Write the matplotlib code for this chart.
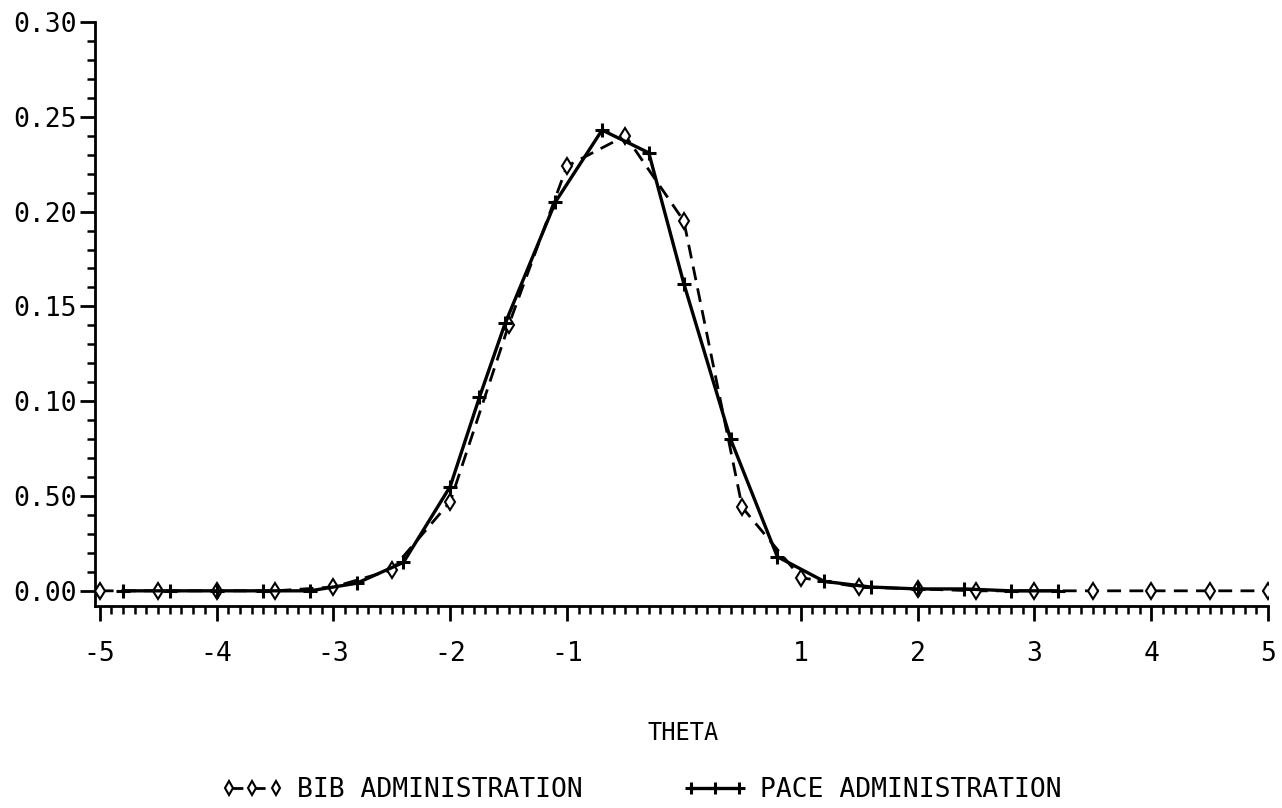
import matplotlib
matplotlib.use("Agg")
import matplotlib.pyplot as plt
from matplotlib.ticker import FixedLocator, MultipleLocator

# posterior density over theta, two administrations
bib_theta = [-5.0, -4.5, -4.0, -3.5, -3.0, -2.5, -2.0, -1.5, -1.0, -0.5, 0.0,
             0.5, 1.0, 1.5, 2.0, 2.5, 3.0, 3.5, 4.0, 4.5, 5.0]
bib_dens = [0.000, 0.000, 0.000, 0.000, 0.002, 0.011, 0.047, 0.140, 0.224, 0.240, 0.195,
            0.044, 0.007, 0.002, 0.001, 0.000, 0.000, 0.000, 0.000, 0.000, 0.000]

pace_theta = [-4.8, -4.4, -4.0, -3.6, -3.2, -2.8, -2.4, -2.0, -1.75, -1.53, -1.1,
              -0.7, -0.3, 0.0, 0.4, 0.8, 1.2, 1.6, 2.0, 2.4, 2.8, 3.2]
pace_dens = [0.000, 0.000, 0.000, 0.000, 0.000, 0.004, 0.015, 0.055, 0.102, 0.141, 0.205,
             0.243, 0.231, 0.162, 0.080, 0.018, 0.005, 0.002, 0.001, 0.001, 0.000, 0.000]

xticks = [-5, -4, -3, -2, -1, 1, 2, 3, 4, 5]
yticks = [0.00, 0.05, 0.10, 0.15, 0.20, 0.25, 0.30]
ytick_labels = ["0.00", "0.50", "0.10", "0.15", "0.20", "0.25", "0.30"]

plt.rcParams['font.family'] = ['DejaVu Sans Mono', 'DejaVu Sans']

fig = plt.figure(figsize=(12.82, 8.08), dpi=100)
ax = fig.add_axes([0.0741, 0.25, 0.9150, 0.7228])

ax.plot(bib_theta, bib_dens, color='black', lw=2.0, ls=(0, (5, 3)),
        marker='d', ms=8, mfc='white', mec='black', mew=1.5,
        label='BIB ADMINISTRATION', zorder=3)
ax.plot(pace_theta, pace_dens, color='black', lw=2.4, ls='-',
        marker='+', ms=10, mew=2.2,
        label='PACE ADMINISTRATION', zorder=4)

ax.set_xlim(-5.04, 5.0)
ax.set_ylim(-0.008, 0.30)

ax.xaxis.set_major_locator(FixedLocator(xticks))
ax.xaxis.set_minor_locator(MultipleLocator(0.1))
ax.yaxis.set_major_locator(FixedLocator(yticks))
ax.yaxis.set_minor_locator(MultipleLocator(0.01))
ax.set_xticklabels([str(t) for t in xticks])
ax.set_yticklabels(ytick_labels)

for s in ['top', 'right']:
    ax.spines[s].set_visible(False)
for s in ['left', 'bottom']:
    ax.spines[s].set_linewidth(2.0)

ax.tick_params(axis='both', which='major', direction='out', width=2.0,
               length=11, labelsize=19)
ax.tick_params(axis='both', which='minor', direction='out', width=1.8, length=6)
ax.tick_params(axis='x', which='major', pad=14)
ax.tick_params(axis='y', which='major', pad=2)

fig.text(0.533, 1 - 733 / 808, 'THETA', ha='center', va='center', fontsize=17)

fig.legend(loc='center', bbox_to_anchor=(0.50, 1 - 790 / 808), ncol=2,
           frameon=False, fontsize=19, numpoints=3, handlelength=2.4,
           columnspacing=3.8, handletextpad=0.5, markerscale=0.9)

fig.savefig('out.png', dpi=100, facecolor='white')
